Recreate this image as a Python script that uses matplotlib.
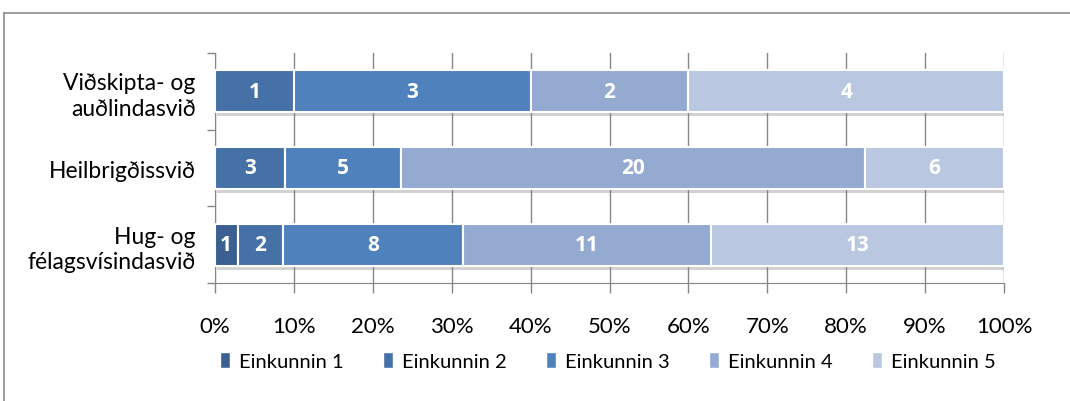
import matplotlib
matplotlib.use("Agg")
import matplotlib.pyplot as plt
import matplotlib.patheffects as pe
from matplotlib.lines import Line2D
from matplotlib.patches import Patch
import numpy as np

plt.rcParams['font.family'] = ['Lato', 'DejaVu Sans']

categories = ["Hug- og\nfélagsvísindasvið", "Heilbrigðissvið", "Viðskipta- og\nauðlindasvið"]
series_names = ["Einkunnin 1", "Einkunnin 2", "Einkunnin 3", "Einkunnin 4", "Einkunnin 5"]
counts = {
    "Einkunnin 1": [1, 0, 0],
    "Einkunnin 2": [2, 3, 1],
    "Einkunnin 3": [8, 5, 3],
    "Einkunnin 4": [11, 20, 2],
    "Einkunnin 5": [13, 6, 4],
}
colors = ["#3B5F91", "#4571A7", "#4F81BD", "#95AAD1", "#B9C7E1"]
tick_labels = ["0%", "10%", "20%", "30%", "40%", "50%", "60%", "70%", "80%", "90%", "100%"]

fig = plt.figure(figsize=(10.7, 4.02), dpi=100)
ax = fig.add_axes([215 / 1070, 1 - 284 / 402, (1004 - 215) / 1070, (284 - 54) / 402])

totals = np.sum([counts[s] for s in series_names], axis=0)
y = np.arange(len(categories))
left = np.zeros(len(categories))
shadow = [pe.SimplePatchShadow(offset=(1.5, -3), shadow_rgbFace="#808080", alpha=0.35), pe.Normal()]
for name, col in zip(series_names, colors):
    vals = np.array(counts[name], dtype=float)
    frac = vals / totals * 100
    bars = ax.barh(y, frac, left=left, height=0.545, color=col, edgecolor="white",
                   linewidth=1.5, zorder=3)
    for b in bars:
        b.set_path_effects(shadow)
    for i, v in enumerate(vals):
        if v > 0:
            ax.text(left[i] + frac[i] / 2, y[i], f"{int(v)}", ha="center", va="center",
                    color="white", fontsize=15, fontweight="bold",
                    family=["Open Sans", "DejaVu Sans"], zorder=5)
    left += frac

ax.set_xlim(0, 100)
ax.set_ylim(-0.5, len(categories) - 0.5)
ax.set_xticks(np.arange(0, 101, 10))
ax.set_xticklabels(tick_labels, fontsize=16)
ax.set_yticks(y)
ax.set_yticklabels(categories, fontsize=16.5, linespacing=1.25)
ax.set_yticks(np.arange(-0.5, len(categories), 1), minor=True)
ax.tick_params(axis="y", which="major", length=0, pad=14)
ax.tick_params(axis="y", which="minor", length=6, color="#868686", width=1)
ax.tick_params(axis="x", length=7, color="#868686", width=1, pad=17)
ax.grid(axis="x", color="#868686", linewidth=1, zorder=0)
for side in ["top", "right"]:
    ax.spines[side].set_visible(False)
ax.spines["left"].set_color("#868686")
ax.spines["bottom"].set_color("#868686")

handles = [Patch(facecolor=c, edgecolor="white") for c in colors]
fig.legend(handles, series_names, loc="center", bbox_to_anchor=(608 / 1070, 1 - 362 / 402),
           ncol=5, frameon=False, fontsize=14.5, handlelength=0.5, handleheight=0.85,
           handletextpad=0.45, columnspacing=1.95)

# outer chart border
fig.add_artist(Line2D([4 / 1070, 1.0], [1 - 14 / 402, 1 - 14 / 402], transform=fig.transFigure,
                      color="#8c8c8c", linewidth=1.2))
fig.add_artist(Line2D([4 / 1070, 4 / 1070], [0, 1 - 14 / 402], transform=fig.transFigure,
                      color="#8c8c8c", linewidth=1.2))

fig.savefig("out.png", dpi=100)
